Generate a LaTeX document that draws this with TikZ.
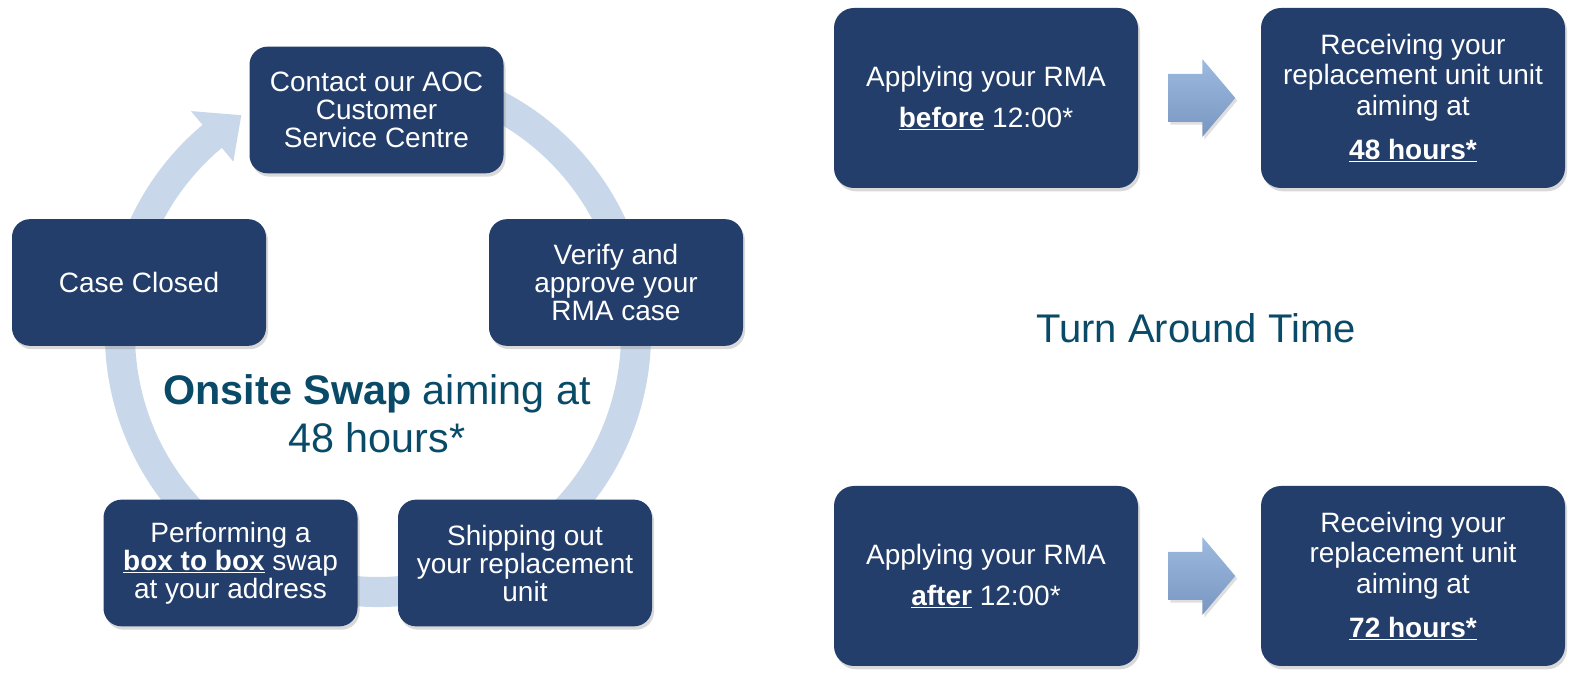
\documentclass[tikz,border=0pt]{standalone}
\usepackage{fontspec}
\setmainfont{Liberation Sans}
\usetikzlibrary{shadows,calc}
\definecolor{boxc}{RGB}{35,62,107}
\definecolor{ringc}{RGB}{200,216,234}
\definecolor{tealc}{RGB}{8,74,104}
\definecolor{arrtop}{RGB}{157,186,224}
\definecolor{arrbot}{RGB}{120,150,192}
\begin{document}
\begin{tikzpicture}[x=0.75pt,y=0.75pt,
  boxstyle/.style={shape=rectangle, fill=boxc, text=white, align=center, inner sep=0pt,
    drop shadow={shadow xshift=1.5pt, shadow yshift=-2.5pt, opacity=0.3}},
  cyclebox/.style={boxstyle, rounded corners=13.5pt, minimum width=190.5pt, minimum height=95pt,
    font=\fontsize{21}{21}\selectfont},
  timebox/.style={boxstyle, rounded corners=15pt, minimum width=228pt, minimum height=135pt,
    font=\fontsize{21}{23}\selectfont},
  bigtext/.style={text=tealc, align=center, inner sep=0pt},
  arrowshade/.style={top color=arrtop, bottom color=arrbot,
    drop shadow={shadow xshift=1.5pt, shadow yshift=-2pt, opacity=0.25}}
]
\useasboundingbox (0,0) rectangle (1586,675);

% cycle ring with arrow head
\coordinate (C) at (378,341);
\begin{scope}[shift={(C)}]
\fill[ringc] (75:273) arc[start angle=75,end angle=-230,radius=273]
  -- (130:291) -- (122:258) -- (130:225) -- (130:243)
  arc[start angle=-230,end angle=75,radius=243] -- cycle;
\end{scope}

% cycle boxes
\node[cyclebox] (contact) at (376.5,565) {Contact our AOC\\Customer\\Service Centre};
\node[cyclebox] (verify) at (616,392.5) {Verify and\\approve your\\RMA case};
\node[cyclebox] (closed) at (139,392.5) {Case Closed};
\node[cyclebox] (perform) at (230.5,112) {Performing a\\\underline{\textbf{box to box}} swap\\at your address};
\node[cyclebox] (ship) at (525,112) {Shipping out\\your replacement\\unit};

\node[bigtext, font=\fontsize{31}{36}\selectfont] (onsite) at (377,261)
  {\textbf{Onsite Swap} aiming at\\48 hours*};

% turn around time
\node[timebox] (applyA) at (986,577) {Applying your RMA\\[8pt]\underline{\textbf{before}} 12:00*};
\node[timebox] (recvA) at (1413,577) {Receiving your\\replacement unit unit\\aiming at\\[10pt]\underline{\textbf{48 hours*}}};
\node[timebox] (applyB) at (986,99) {Applying your RMA\\[8pt]\underline{\textbf{after}} 12:00*};
\node[timebox] (recvB) at (1413,99) {Receiving your\\replacement unit\\aiming at\\[10pt]\underline{\textbf{72 hours*}}};

\node[bigtext, font=\fontsize{30}{36}\selectfont] (tat) at (1196,347) {Turn Around Time};

\foreach \a in {applyA,applyB}{
  \shade[arrowshade] ($(\a.east)+(30,24)$) -- ($(\a.east)+(64,24)$) -- ($(\a.east)+(64,39)$)
    -- ($(\a.east)+(97,0)$) -- ($(\a.east)+(64,-39)$) -- ($(\a.east)+(64,-24)$)
    -- ($(\a.east)+(30,-24)$) -- cycle;
}
\end{tikzpicture}
\end{document}
